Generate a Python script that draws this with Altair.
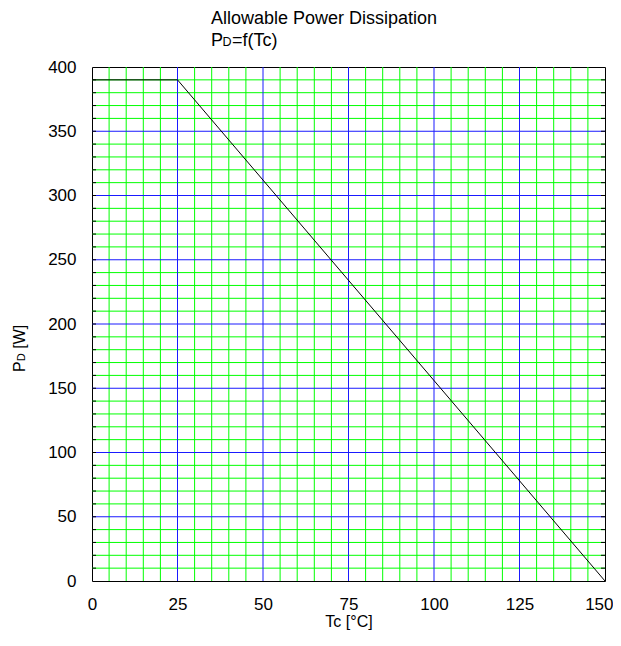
import altair as alt
import pandas as pd

# Curve data
tc_values = [0, 25, 150]
pd_values = [390, 390, 0]

# Grid positions
x_minor = [v for v in range(5, 150, 5) if v % 25 != 0]
x_major = [25, 50, 75, 100, 125]
y_minor = [v for v in range(10, 400, 10) if v % 50 != 0]
y_major = [50, 100, 150, 200, 250, 300, 350]
y_ticks = list(range(10, 400, 10))

x_labels = [0, 25, 50, 75, 100, 125, 150]
y_labels = [0, 50, 100, 150, 200, 250, 300, 350, 400]

title_line1 = "Allowable Power Dissipation"
title_P = "P"
title_D = "D"
title_rest = "=f(Tc)"
ytitle_rest = "[W]"
xtitle = "Tc [°C]"

W, H = 513, 514
FONT = "Liberation Sans"

xs = alt.Scale(domain=[0, 150], nice=False, zero=False)
ys = alt.Scale(domain=[0, 400], nice=False, zero=False)

ax_x = alt.Axis(values=x_labels, title=xtitle, grid=False, ticks=False, tickSize=0,
                domain=False, labelFontSize=17, labelFont=FONT, labelColor="black",
                labelPadding=15, titleFontSize=16, titleFont=FONT, titleColor="black",
                titleFontWeight="normal", titlePadding=1, labelFlush=False,
                labelAlign=alt.condition("datum.value == 150", alt.value("right"), alt.value("center")),
                labelOffset=alt.condition("datum.value == 150", alt.value(8), alt.value(0)))
ax_y = alt.Axis(values=y_labels, title=None, grid=False, ticks=False, tickSize=0,
                domain=False, labelFontSize=17, labelFont=FONT, labelColor="black",
                labelPadding=16, labelFlush=False)

curve_df = pd.DataFrame({"tc": tc_values, "pd": pd_values})

def vrules(vals, color):
    return alt.Chart(pd.DataFrame({"tc": vals})).mark_rule(color=color, strokeWidth=1).encode(
        x=alt.X("tc:Q", scale=xs, axis=ax_x))

def hrules(vals, color):
    return alt.Chart(pd.DataFrame({"pd": vals})).mark_rule(color=color, strokeWidth=1).encode(
        y=alt.Y("pd:Q", scale=ys, axis=ax_y))

minor_v = vrules(x_minor, "#00ff00")
minor_h = hrules(y_minor, "#00ff00")
major_v = vrules(x_major, "#1a1aff")
major_h = hrules(y_major, "#1a1aff")

tick_df = pd.DataFrame({"pd": y_ticks})
left_ticks = alt.Chart(tick_df).mark_rule(color="black", strokeWidth=1).encode(
    y=alt.Y("pd:Q", scale=ys, axis=ax_y), x=alt.value(0), x2=alt.value(4))
right_ticks = alt.Chart(tick_df).mark_rule(color="black", strokeWidth=1).encode(
    y=alt.Y("pd:Q", scale=ys, axis=ax_y), x=alt.value(W - 4), x2=alt.value(W))

curve = alt.Chart(curve_df).mark_line(color="black", strokeWidth=1).encode(
    x=alt.X("tc:Q", scale=xs, axis=ax_x),
    y=alt.Y("pd:Q", scale=ys, axis=ax_y),
)

def txt(s, x, y, size, angle=0):
    return alt.Chart(pd.DataFrame({"t": [s]})).mark_text(
        font=FONT, fontSize=size, color="black", align="left", baseline="alphabetic", angle=angle
    ).encode(text="t:N", x=alt.value(x), y=alt.value(y))

tx = 211 - 92
t1 = txt(title_line1, tx, 24 - 67, 18)
t2a = txt(title_P, tx, 46 - 67, 18)
t2b = txt(title_D, tx + 11.5, 46 - 67, 12.5)
t2c = txt(title_rest, tx + 11.5 + 9.5, 46 - 67, 18)

yx = 25 - 92
y0 = 372 - 67
ya = txt(title_P, yx, y0, 16, 270)
yb = txt(title_D, yx, y0 - 10.7, 11, 270)
yc = txt(ytitle_rest, yx, y0 - 10.7 - 8 - 4.5, 16, 270)

chart = alt.layer(
    minor_v, minor_h, major_v, major_h, left_ticks, right_ticks, curve,
    t1, t2a, t2b, t2c, ya, yb, yc
).properties(
    width=W, height=H,
    autosize=alt.AutoSizeParams(type="none"),
    padding={"left": 84, "top": 59, "right": 8, "bottom": 50},
    background="white",
).configure_view(stroke="black", strokeWidth=1)

chart.save("out.html", embed_options={"renderer": "svg", "actions": False})
